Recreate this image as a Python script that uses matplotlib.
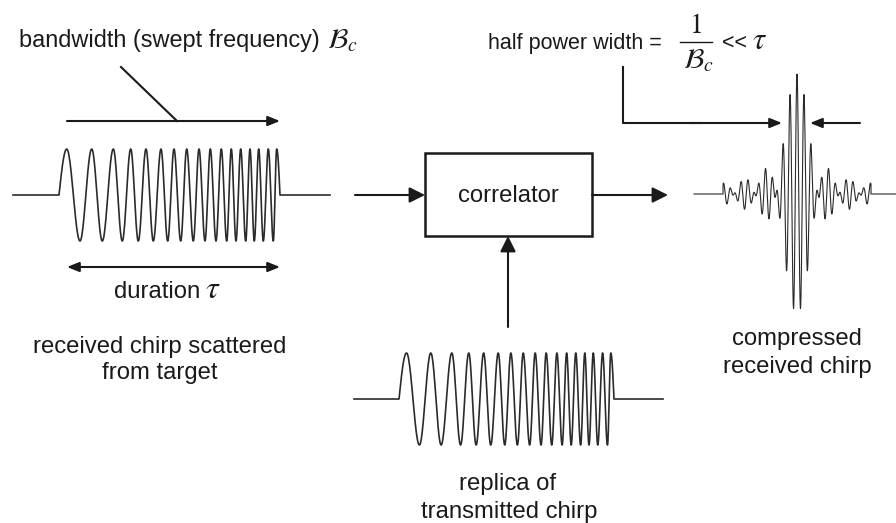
import numpy as np
from matplotlib import pyplot as plt

plt.rcParams['font.family'] = ['Liberation Sans', 'DejaVu Sans']
plt.rcParams['mathtext.fontset'] = 'stix'

# chirp extrema (px from chirp start), alternating +/-
chirpExtrema = [7.7, 21, 32.7, 43.3, 54.3, 63.3, 71.7, 79.3, 87, 94.3, 102, 108.7,
                115, 121.7, 127.7, 134.3, 140, 146, 151.3, 157, 162.3, 167.7, 172.3,
                177, 181.7, 186.7, 191, 195.3, 199.7, 204.3, 209.3, 214.3, 217.7]
chirpLength = 221.0

# compressed pulse: sinc envelope on a carrier
pulsePeak = 120.0
pulseCarrier = 7.0
pulseNull = 21.0
pulseHalfSpan = 74.0

labelTop = 'bandwidth (swept frequency)'
labelHalf = 'half power width ='
labelDuration = 'duration'
labelReceived = ['received chirp scattered', 'from target']
labelReplica = ['replica of', 'transmitted chirp']
labelCompressed = ['compressed', 'received chirp']
labelBox = 'correlator'
symB = r'$\mathcal{B}_c$'
symTau = r'$\tau$'

ink = '#1a1a1a'
wave = '#2b2b2b'
fs = 17.2


def chirpXY(x0, width, base, amp, padL, padR):
    sc = width / chirpLength
    xs, ys = [x0 - padL, x0], [base, base]
    signs = [1 if i % 2 == 0 else -1 for i in range(len(chirpExtrema))]
    s = np.linspace(0, 1, 25)
    # rise to first peak
    xs += list(x0 + s * chirpExtrema[0] * sc)
    ys += list(base - amp * np.sin(np.pi / 2 * s))
    for i in range(len(chirpExtrema) - 1):
        a, b = chirpExtrema[i], chirpExtrema[i + 1]
        va, vb = signs[i], signs[i + 1]
        v = (va + vb) / 2 + (va - vb) / 2 * np.cos(np.pi * s)
        xs += list(x0 + (a + s * (b - a)) * sc)
        ys += list(base - amp * v)
    # fall back to the baseline
    a = chirpExtrema[-1]
    xs += list(x0 + (a + s * (chirpLength - a)) * sc)
    ys += list(base - amp * signs[-1] * np.cos(np.pi / 2 * s))
    xs += [x0 + width + padR]
    ys += [base]
    return xs, ys


def arrow(ax, tail, tip, hl=0.72, hw=0.29, lw=1.5, style='-|>'):
    ax.annotate('', xy=tip, xytext=tail,
                arrowprops=dict(arrowstyle=f'{style},head_length={hl},head_width={hw}',
                                mutation_scale=10, lw=lw, color=ink,
                                shrinkA=0, shrinkB=0))


def label(x, y, s, size=fs, ha='center'):
    ax.text(x, y, s, fontsize=size, color=ink, va='baseline', ha=ha)


fig = plt.figure(figsize=(8.96, 5.23), dpi=100)
ax = fig.add_axes([0, 0, 1, 1])
ax.set_xlim(0, 896)
ax.set_ylim(523, 0)
ax.axis('off')

# received chirp
cx, cy = chirpXY(59, 221, 195, 46, 46, 50)
ax.plot(cx, cy, color=wave, lw=1.2)
# replica chirp
rx, ry = chirpXY(399, 215, 399, 46, 45, 49)
ax.plot(rx, ry, color=wave, lw=1.2)

# compressed pulse
t = np.linspace(-pulseHalfSpan, pulseHalfSpan, 1500)
p = pulsePeak * np.sinc(t / pulseNull) * np.cos(2 * np.pi * t / pulseCarrier)
ax.plot(np.r_[694, 797 + t[0], 797 + t, 797 + t[-1], 896],
        np.r_[194, 194, 194 - p, 194, 194], color=wave, lw=0.8)

# bandwidth annotation
label(19, 46.5, labelTop, size=16.9, ha='left')
label(327, 48, symB, size=20, ha='left')
ax.plot([121, 177], [67, 121], color=ink, lw=1.5)
arrow(ax, (67, 121), (280, 121))

# duration
arrow(ax, (67, 267), (280, 267), style='<|-|>')
label(114, 298, labelDuration, ha='left')
label(205, 298, symTau, size=23, ha='left')
label(160, 353, labelReceived[0])
label(160, 378.5, labelReceived[1])

# correlator box and arrows
ax.add_patch(plt.Rectangle((425, 153), 167, 83, fill=False, lw=1.8, edgecolor=ink))
label(508, 202.5, labelBox)
arrow(ax, (355, 195), (425, 195), hl=0.94, hw=0.47)
arrow(ax, (592, 195), (668, 195), hl=0.94, hw=0.47)
arrow(ax, (508, 327), (508, 236), hl=0.94, hw=0.47)
label(508, 490, labelReplica[0])
label(509, 518, labelReplica[1])

# half power width
label(488, 49, labelHalf, size=15.5, ha='left')
label(695, 33, '$1$', size=20)
ax.plot([680, 712], [41.7, 41.7], color=ink, lw=1.0)
label(683, 68, symB, size=20, ha='left')
label(722, 49, '<<', size=15.5, ha='left')
label(752, 49, symTau, size=22, ha='left')
ax.plot([623, 623, 700], [67, 123, 123], color=ink, lw=1.5)
arrow(ax, (690, 123), (782, 123))
arrow(ax, (860, 123), (810, 123))

label(797, 345, labelCompressed[0])
label(797, 373, labelCompressed[1])

plt.savefig('out.png', dpi=100)
